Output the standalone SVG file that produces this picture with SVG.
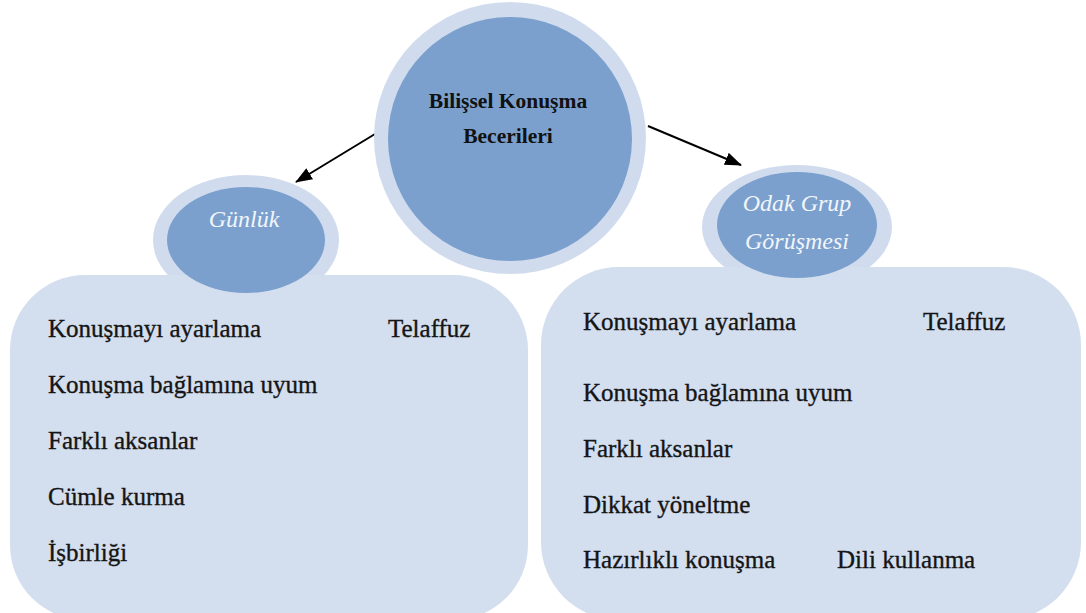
<svg xmlns="http://www.w3.org/2000/svg" width="1086" height="613" viewBox="0 0 1086 613">
<defs>
<marker id="ah" markerWidth="17" markerHeight="13" refX="16" refY="6.5" orient="auto" markerUnits="userSpaceOnUse">
<path d="M0,0 L17,6.5 L0,13 Z" fill="#000"/>
</marker>
<style>
.ring{fill:#d0dcee}
.core{fill:#7ba0cd}
.box{fill:#d3deef}
.lbl{font-family:'Liberation Serif',serif;font-size:25px;fill:#151515;stroke:#151515;stroke-width:0.35}
.title{font-family:'Liberation Serif',serif;font-size:21.5px;font-weight:bold;fill:#111;text-anchor:middle}
.it{font-family:'Liberation Serif',serif;font-size:24px;font-style:italic;fill:#f2f5fa;text-anchor:middle}
.conn{stroke:#000;stroke-width:2;fill:none}
</style>
</defs>
<rect width="1086" height="613" fill="#fff"/>
<g id="connectors">
<line class="conn" x1="375" y1="134" x2="296" y2="182" marker-end="url(#ah)"/>
<line class="conn" x1="648" y1="126" x2="741" y2="165" marker-end="url(#ah)"/>
</g>
<g id="center">
<circle class="ring" cx="510" cy="138" r="136"/>
<circle class="core" cx="510" cy="139" r="122"/>
<text class="title" x="508" y="108">Bilişsel Konuşma</text>
<text class="title" x="508" y="143">Becerileri</text>
</g>
<g id="gunluk">
<ellipse class="ring" cx="246" cy="240" rx="93" ry="65"/>
<rect class="box" x="10" y="275" width="518" height="345" rx="75" ry="75"/>
<ellipse class="core" cx="246" cy="240" rx="79" ry="53"/>
<text class="it" x="244" y="227">Günlük</text>
<text class="lbl" x="48" y="337">Konuşmayı ayarlama</text>
<text class="lbl" x="388" y="337">Telaffuz</text>
<text class="lbl" x="48" y="393">Konuşma bağlamına uyum</text>
<text class="lbl" x="48" y="449">Farklı aksanlar</text>
<text class="lbl" x="48" y="505">Cümle kurma</text>
<text class="lbl" x="48" y="561">İşbirliği</text>
</g>
<g id="odak">
<ellipse class="ring" cx="797" cy="227" rx="95" ry="62"/>
<rect class="box" x="541" y="267" width="540" height="353" rx="78" ry="78"/>
<ellipse class="core" cx="797" cy="225" rx="80" ry="53"/>
<text class="it" x="797" y="211">Odak Grup</text>
<text class="it" x="797" y="249">Görüşmesi</text>
<text class="lbl" x="583" y="330">Konuşmayı ayarlama</text>
<text class="lbl" x="923" y="330">Telaffuz</text>
<text class="lbl" x="583" y="401">Konuşma bağlamına uyum</text>
<text class="lbl" x="583" y="457">Farklı aksanlar</text>
<text class="lbl" x="583" y="513">Dikkat yöneltme</text>
<text class="lbl" x="583" y="568">Hazırlıklı konuşma</text>
<text class="lbl" x="837" y="568">Dili kullanma</text>
</g>
</svg>
